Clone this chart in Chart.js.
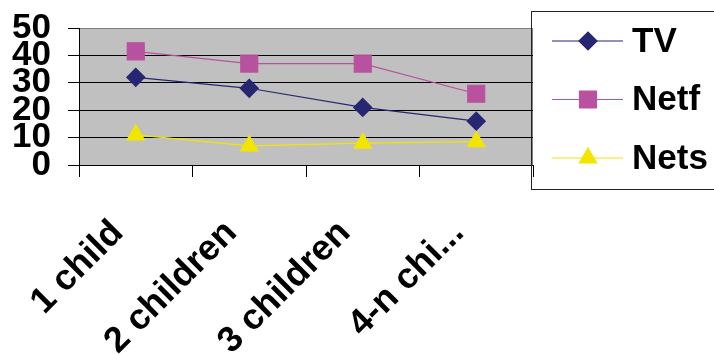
<!DOCTYPE html>
<html>
<head>
<meta charset="utf-8">
<script src="https://cdn.jsdelivr.net/npm/chart.js@4"></script>
<style>
  body { margin: 0; background: #fff; }
  #wrap { width: 714px; height: 354px; }
</style>
</head>
<body>
<div id="wrap"><canvas id="chart" width="714" height="354"></canvas></div>
<script>
// data
const categories = ['1 child', '2 children', '3 children', '4-n chi...'];
const tvValues = [32, 28, 21, 16];
const netfValues = [41.5, 37, 37, 26];
const netsValues = [11, 7, 8, 8.5];
const yTicks = [0, 10, 20, 30, 40, 50];

const bigFont = { family: "'Liberation Sans', Arial, sans-serif", size: 35, weight: 'bold' };

// grey plot background with thin grey frame
const plotBack = {
    id: 'plotBack',
    beforeDraw(chart) {
        const { ctx, chartArea: a } = chart;
        ctx.save();
        ctx.fillStyle = '#c0c0c0';
        ctx.fillRect(a.left, a.top, a.right - a.left, a.bottom - a.top);
        ctx.strokeStyle = '#808080';
        ctx.lineWidth = 1;
        ctx.strokeRect(a.left + 0.5, a.top + 0.5, a.right - a.left - 1, a.bottom - a.top);
        ctx.restore();
    }
};

// legend box on the right, line + marker + label
const boxLegend = {
    id: 'boxLegend',
    afterDraw(chart) {
        const ctx = chart.ctx;
        ctx.save();
        ctx.strokeStyle = '#222';
        ctx.lineWidth = 1;
        ctx.strokeRect(531.5, 11.5, 200, 178);
        chart.data.datasets.forEach((ds, i) => {
            const y = 41 + i * 58.5;
            ctx.strokeStyle = ds.borderColor;
            ctx.lineWidth = ds.borderWidth;
            ctx.beginPath();
            ctx.moveTo(552, y);
            ctx.lineTo(623, y);
            ctx.stroke();
            ctx.fillStyle = ds.backgroundColor;
            ctx.strokeStyle = ds.borderColor;
            Chart.helpers.drawPoint(ctx, {
                pointStyle: ds.pointStyle, radius: ds.pointRadius, rotation: 0, borderWidth: 1
            }, 588, y);
            ctx.fillStyle = '#000';
            ctx.font = 'bold 35px "Liberation Sans", Arial, sans-serif';
            ctx.textBaseline = 'middle';
            ctx.fillText(ds.label, 632, y + 1);
        });
        ctx.restore();
    }
};

new Chart(document.getElementById('chart'), {
    type: 'line',
    data: {
        labels: categories,
        datasets: [
            {
                label: 'TV', data: tvValues,
                borderColor: '#262673', backgroundColor: '#262673', borderWidth: 1.2,
                pointStyle: 'rectRot', pointRadius: 9, pointHoverRadius: 9
            },
            {
                label: 'Netf', data: netfValues,
                borderColor: '#b9529e', backgroundColor: '#b9529e', borderWidth: 1.2,
                pointStyle: 'rect', pointRadius: 12, pointHoverRadius: 12
            },
            {
                label: 'Nets', data: netsValues,
                borderColor: '#f2e600', backgroundColor: '#f2e600', borderWidth: 1.2,
                pointStyle: 'triangle', pointRadius: 10, pointHoverRadius: 10
            }
        ]
    },
    options: {
        responsive: false,
        animation: false,
        devicePixelRatio: 1,
        layout: { padding: { left: 0, right: 181, top: 28, bottom: 0 } },
        plugins: {
            legend: { display: false },
            tooltip: { enabled: false }
        },
        scales: {
            x: {
                offset: true,
                afterFit(scale) { scale.height = 189; },
                grid: {
                    offset: true, drawOnChartArea: false, drawTicks: true,
                    tickLength: 12, tickColor: '#000', color: '#000'
                },
                border: { color: '#000', width: 1 },
                ticks: {
                    font: Object.assign({}, bigFont, { size: 36 }), color: '#000',
                    minRotation: 45, maxRotation: 45, autoSkip: false,
                    padding: 35, labelOffset: -18
                }
            },
            y: {
                min: 0, max: 50,
                afterFit(scale) { scale.width = 79; },
                afterBuildTicks(scale) { scale.ticks = yTicks.map(v => ({ value: v })); },
                grid: {
                    color: ctx => (ctx.tick && ctx.tick.value === 50 ? '#808080' : '#000'),
                    tickColor: '#000', tickLength: 11, lineWidth: 1
                },
                border: { color: '#000', width: 1 },
                ticks: {
                    font: Object.assign({}, bigFont, { lineHeight: 0.6 }),
                    color: '#000', autoSkip: false, padding: 17, stepSize: 10
                }
            }
        }
    },
    plugins: [plotBack, boxLegend]
});
</script>
</body>
</html>
